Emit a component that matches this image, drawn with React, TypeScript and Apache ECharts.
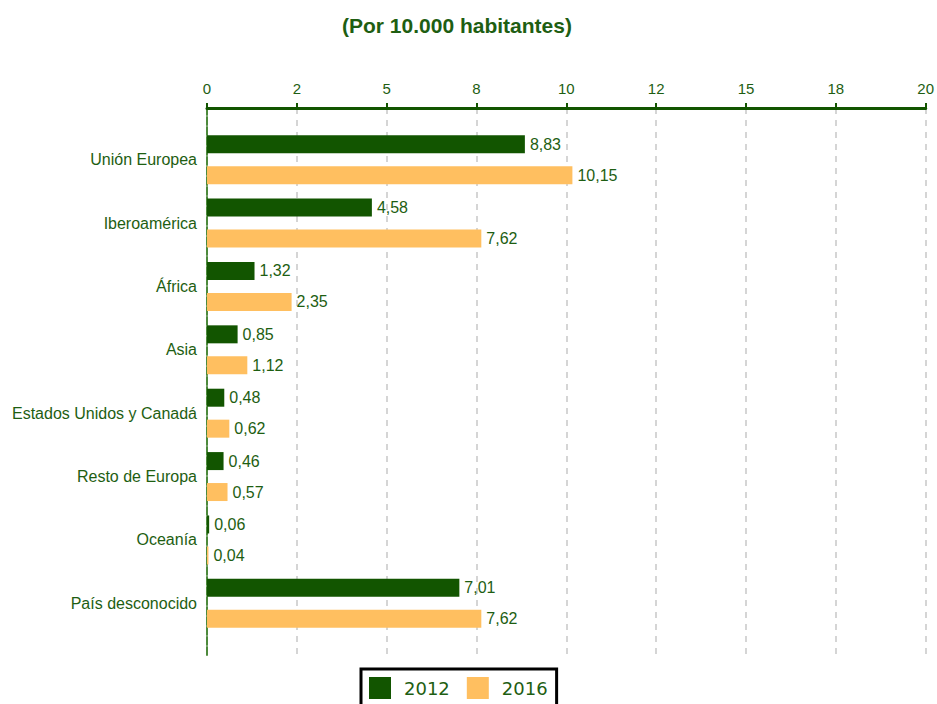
import React, { useEffect, useRef } from "react";
import * as echarts from "echarts";

const categories = [
  "Unión Europea",
  "Iberoamérica",
  "África",
  "Asia",
  "Estados Unidos y Canadá",
  "Resto de Europa",
  "Oceanía",
  "País desconocido",
];
const values2012 = [8.83, 4.58, 1.32, 0.85, 0.48, 0.46, 0.06, 7.01];
const values2016 = [10.15, 7.62, 2.35, 1.12, 0.62, 0.57, 0.04, 7.62];
const seriesNames = ["2012", "2016"];
const titleText = "(Por 10.000 habitantes)";

const GREEN = "#125500";
const ORANGE = "#FFBF60";
const TEXT = "#1E5E12";
const FONT = "Liberation Sans, Arial, sans-serif";

function roundHalfEven(v: number): number {
  const f = Math.floor(v);
  const d = v - f;
  if (Math.abs(d - 0.5) < 1e-9) return f % 2 === 0 ? f : f + 1;
  return Math.round(v);
}

export default function App() {
  const ref = useRef<HTMLDivElement>(null);
  useEffect(() => {
    if (!ref.current) return;
    const chart = echarts.init(ref.current, undefined, { renderer: "svg" });
    const fmt = (p: any) => String(p.value.toFixed(2)).replace(".", ",");
    chart.setOption({
      animation: false,
      title: {
        text: titleText,
        left: 337,
        top: 10,
        textStyle: { color: TEXT, fontSize: 21, fontWeight: "bold", fontFamily: FONT },
      },
      legend: {
        data: seriesNames,
        left: 361,
        top: 669,
        icon: "rect",
        itemWidth: 22,
        itemHeight: 22,
        itemGap: 17,
        padding: [8, 9, 8, 8],
        borderColor: "#000",
        borderWidth: 3,
        borderRadius: 0,
        backgroundColor: "#fff",
        textStyle: { color: TEXT, fontSize: 18, fontFamily: "DejaVu Sans, sans-serif", padding: [0, 0, 0, 8] },
      },
      grid: [
        { left: 207, right: 10, top: 108, bottom: 49 },
        { left: 207, right: 10, top: 128, bottom: 69 },
      ],
      xAxis: [
        {
          gridIndex: 0,
          type: "value",
          position: "top",
          min: 0,
          max: 20,
          interval: 2.5,
          axisLine: { show: true, onZero: false, lineStyle: { color: GREEN, width: 3 } },
          axisTick: { show: true, length: 5, inside: false, lineStyle: { color: GREEN, width: 2 } },
          axisLabel: {
            color: TEXT,
            fontSize: 15,
            margin: 12,
            fontFamily: FONT,
            formatter: (v: number) => String(roundHalfEven(v)),
          },
          splitLine: { show: true, lineStyle: { color: "#c8c8c8", type: [6, 6], width: 1.5 } },
        },
        {
          gridIndex: 1,
          type: "value",
          min: 0,
          max: 20,
          show: false,
        },
      ],
      yAxis: [
        {
          gridIndex: 0,
          type: "value",
          min: 0,
          max: 1,
          axisLine: { show: true, onZero: false, lineStyle: { color: "#4d8a3c", width: 2, type: [8, 2] } },
          axisTick: { show: false },
          axisLabel: { show: false },
          splitLine: { show: false },
        },
        {
          gridIndex: 1,
          type: "category",
          data: categories,
          inverse: true,
          axisLine: { show: false },
          axisTick: { show: false },
          axisLabel: {
            color: TEXT,
            fontSize: 16,
            margin: 10,
            fontFamily: FONT,
          },
          splitLine: { show: false },
        },
      ],
      series: [
        {
          name: seriesNames[0],
          type: "bar",
          xAxisIndex: 1,
          yAxisIndex: 1,
          data: values2012,
          barWidth: 18,
          barGap: "72%",
          itemStyle: { color: GREEN },
          label: {
            show: true,
            position: "right",
            distance: 5,
            color: TEXT,
            fontSize: 16,
            fontFamily: FONT,
            formatter: fmt,
          },
        },
        {
          name: seriesNames[1],
          type: "bar",
          xAxisIndex: 1,
          yAxisIndex: 1,
          data: values2016,
          barWidth: 18,
          barGap: "72%",
          itemStyle: { color: ORANGE },
          label: {
            show: true,
            position: "right",
            distance: 5,
            color: TEXT,
            fontSize: 16,
            fontFamily: FONT,
            formatter: fmt,
          },
        },
      ],
    });
    return () => chart.dispose();
  }, []);
  return <div ref={ref} style={{ width: 937, height: 704, position: "absolute", left: 0, top: 0 }} />;
}
